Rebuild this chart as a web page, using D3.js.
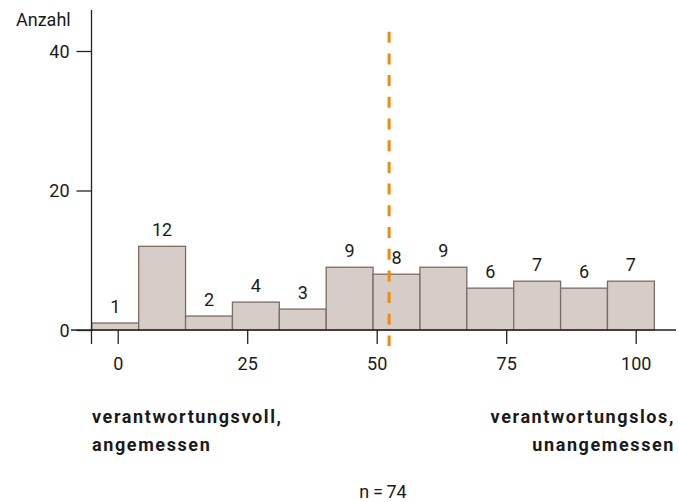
<!DOCTYPE html>
<html><head><meta charset="utf-8">
<script src="https://cdn.jsdelivr.net/npm/d3@7"></script>
<style>body{margin:0;background:#fff}svg{display:block}text{font-family:Roboto,"Noto Sans",sans-serif;fill:#1a1a1a}</style>
</head><body><svg id="c" width="678" height="502"></svg>
<script>
const counts = [1, 12, 2, 4, 3, 9, 8, 9, 6, 7, 6, 7];
const binEdges = [-5, 4.05, 13.1, 22.15, 31.2, 40.25, 49.3, 58.35, 67.4, 76.45, 85.5, 94.55, 103.6];
const meanValue = 52.4;
const xTicks = [0, 25, 50, 75, 100];
const yTicks = [0, 20, 40];
const yLabel = "Anzahl";
const leftLabel = ["verantwortungsvoll,", "angemessen"];
const rightLabel = ["verantwortungslos,", "unangemessen"];
const nLabel = "n\u2009=\u200974";

const svg = d3.select("#c");
const x = d3.scaleLinear().domain([0, 100]).range([117.7, 635.7]);
const y = d3.scaleLinear().domain([0, 40]).range([330, 51]);
const axisX = 91.5;

const bins = counts.map((c, i) => ({c, x0: binEdges[i], x1: binEdges[i + 1]}));

// bars
svg.append("g").selectAll("rect").data(bins).join("rect")
  .attr("x", d => x(d.x0)).attr("width", d => x(d.x1) - x(d.x0))
  .attr("y", d => y(d.c)).attr("height", d => y(0) - y(d.c))
  .attr("fill", "#d6cdc8").attr("stroke", "#7d6c61").attr("stroke-width", 1.3);

// bar labels
svg.append("g").selectAll("text").data(bins).join("text")
  .attr("x", d => (x(d.x0) + x(d.x1)) / 2).attr("y", d => y(d.c) - 10)
  .attr("text-anchor", "middle").attr("font-size", 18).text(d => d.c);

// x baseline
svg.append("line").attr("x1", 71).attr("x2", 676).attr("y1", y(0)).attr("y2", y(0))
  .attr("stroke", "#222").attr("stroke-width", 1.3);

// y axis
const yAxis = d3.axisLeft(y).tickValues(yTicks).tickSize(15).tickPadding(7).tickSizeOuter(0);
const gy = svg.append("g").attr("transform", `translate(${axisX},0)`).call(yAxis);
gy.select(".domain").remove();
gy.selectAll(".tick line").attr("stroke", "#222").attr("stroke-width", 1.3);
gy.selectAll(".tick text").attr("font-size", 18).attr("font-family", "Roboto").attr("fill", "#1a1a1a").attr("dy", "0.36em");
svg.append("line").attr("x1", axisX).attr("x2", axisX).attr("y1", 10).attr("y2", 344)
  .attr("stroke", "#222").attr("stroke-width", 1.3);

// x axis ticks
const xAxis = d3.axisBottom(x).tickValues(xTicks).tickSize(14).tickPadding(13).tickSizeOuter(0);
const gx = svg.append("g").attr("transform", `translate(0,${y(0)})`).call(xAxis);
gx.select(".domain").remove();
gx.selectAll(".tick line").attr("stroke", "#222").attr("stroke-width", 1.3);
gx.selectAll(".tick text").attr("font-size", 18).attr("font-family", "Roboto").attr("fill", "#1a1a1a");

// mean line
svg.append("line").attr("x1", x(meanValue)).attr("x2", x(meanValue)).attr("y1", 31.7).attr("y2", 346)
  .attr("stroke", "#f08a0c").attr("stroke-width", 3).attr("stroke-dasharray", "11,10.7");

// y label
svg.append("text").attr("x", 16).attr("y", 26).attr("font-size", 18).text(yLabel);

// end labels
const lab = (lines, xp, anchor) => {
  lines.forEach((t, i) => svg.append("text").attr("x", xp).attr("y", 423 + i * 28)
    .attr("text-anchor", anchor).attr("font-size", 18).attr("font-weight", "bold")
    .attr("letter-spacing", "1.6px").text(t));
};
lab(leftLabel, 92, "start");
lab(rightLabel, 675, "end");

svg.append("text").attr("x", 383).attr("y", 497.5).attr("text-anchor", "middle").attr("font-size", 18).text(nLabel);
</script></body></html>
